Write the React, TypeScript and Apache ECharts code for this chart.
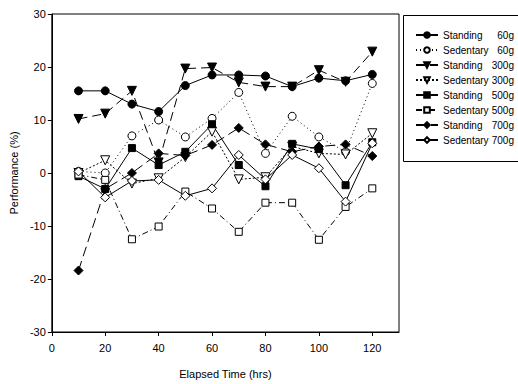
import React, { useEffect, useRef } from "react";
import * as echarts from "echarts";

const hours = [10, 20, 30, 40, 50, 60, 70, 80, 90, 100, 110, 120];
const seriesNames = [
  "Standing 60g",
  "Sedentary 60g",
  "Standing 300g",
  "Sedentary 300g",
  "Standing 500g",
  "Sedentary 500g",
  "Standing 700g",
  "Sedentary 700g",
];
const standing60 = [15.5, 15.5, 13, 11.6, 16.5, 18.5, 18.5, 18.3, 16.3, 17.9, 17.4, 18.6];
const sedentary60 = [0.3, 0, 7, 10, 6.8, 10.3, 15.2, 3.7, 10.7, 6.8, 4, 16.9];
const standing300 = [10.2, 11.2, 15.5, 2, 19.7, 19.9, 17.1, 16.3, 16.3, 19.4, 17.2, 22.9];
const sedentary300 = [0, 2.4, -2, -1, 3, 7.8, -1.2, -0.8, 5, 3.7, 3.5, 7.5];
const standing500 = [-0.6, -3, 4.7, 1.5, 4, 9.2, 1.5, -2.5, 5.5, 4.5, -2.3, 5.8];
const sedentary500 = [-0.3, -1.3, -12.5, -10.1, -3.5, -6.7, -11.1, -5.6, -5.6, -12.6, -6.4, -2.9];
const standing700 = [-18.4, -3, 0, 3.7, 3.3, 5.3, 8.5, 5.4, 4, 5, 5.4, 3.2];
const sedentary700 = [0.3, -4.6, -1.5, -1.3, -4.3, -2.9, 3.4, -1.2, 3.4, 0.9, -5.4, 5.6];

const xTicks = [0, 20, 40, 60, 80, 100, 120];
const yTicks = [-30, -20, -10, 0, 10, 20, 30];

const FONT = "Liberation Sans, Arial, sans-serif";
const downTri = "path://M0,0 L10,0 L5,9 Z";

const styles: any[] = [
  { symbol: "circle", fill: "#000", size: 8, line: "solid" },
  { symbol: "circle", fill: "#fff", size: 8, line: [1, 3] },
  { symbol: downTri, fill: "#000", size: 9, line: [9, 5] },
  { symbol: downTri, fill: "#fff", size: 9, line: [2, 2] },
  { symbol: "rect", fill: "#000", size: 7, line: "solid" },
  { symbol: "rect", fill: "#fff", size: 7, line: [6, 3, 1, 3] },
  { symbol: "diamond", fill: "#000", size: 9, line: [10, 5] },
  { symbol: "diamond", fill: "#fff", size: 9, line: "solid" },
];

const allData = [
  standing60,
  sedentary60,
  standing300,
  sedentary300,
  standing500,
  sedentary500,
  standing700,
  sedentary700,
];

export default function App() {
  const ref = useRef<HTMLDivElement>(null);
  useEffect(() => {
    if (!ref.current) return;
    const chart = echarts.init(ref.current, null, { renderer: "svg" });
    const series = seriesNames.map((name, i) => ({
      name,
      type: "line",
      data: hours.map((h, j) => [h, allData[i][j]]),
      symbol: styles[i].symbol,
      symbolSize: styles[i].size,
      showAllSymbol: true,
      itemStyle: { color: styles[i].fill, borderColor: "#000", borderWidth: 1 },
      lineStyle: { color: "#000", width: 1, type: styles[i].line },
      emphasis: { disabled: true },
      z: 3,
    }));
    chart.setOption({
      animation: false,
      backgroundColor: "#fff",
      grid: {
        left: 48,
        top: 14,
        width: 351,
        height: 318,
        show: true,
        borderColor: "#000",
        borderWidth: 1,
      },
      xAxis: {
        type: "value",
        min: 0,
        max: 130,
        interval: 20,
        name: "Elapsed Time (hrs)",
        nameLocation: "middle",
        nameGap: 36,
        nameTextStyle: { fontFamily: FONT, fontSize: 11, color: "#000" },
        axisLine: { show: true, onZero: false, lineStyle: { color: "#000" } },
        axisTick: { show: true, length: 4, lineStyle: { color: "#000" } },
        axisLabel: {
          fontFamily: FONT,
          fontSize: 11,
          color: "#000",
          margin: 10,
          showMaxLabel: false,
          formatter: (v: number) => (xTicks.includes(v) ? String(v) : ""),
        },
        splitLine: { show: false },
      },
      yAxis: {
        type: "value",
        min: -30,
        max: 30,
        interval: 10,
        name: "Performance (%)",
        nameLocation: "middle",
        nameGap: 30,
        nameTextStyle: { fontFamily: FONT, fontSize: 11, color: "#000" },
        axisLine: { show: true, lineStyle: { color: "#000" } },
        axisTick: { show: true, length: 4, lineStyle: { color: "#000" } },
        axisLabel: {
          fontFamily: FONT,
          fontSize: 11,
          color: "#000",
          margin: 6,
          formatter: (v: number) => (yTicks.includes(v) ? String(v) : ""),
        },
        splitLine: { show: false },
      },
      legend: {
        left: 410,
        top: 25,
        orient: "vertical",
        itemWidth: 22,
        itemHeight: 7,
        itemGap: 5,
        selectedMode: false,
        data: seriesNames,
        textStyle: {
          fontFamily: FONT,
          fontSize: 10,
          color: "#000",
          rich: {
            a: { fontFamily: FONT, fontSize: 10, color: "#000", width: 47 },
            b: { fontFamily: FONT, fontSize: 10, color: "#000", width: 24, align: "right" },
          },
        },
        formatter: (name: string) => {
          const parts = name.split(" ");
          return `{a|${parts[0]}}{b|${parts[1]}}`;
        },
      },
      graphic: [
        {
          type: "rect",
          shape: { x: 403.5, y: 15.5, width: 130, height: 146 },
          style: { fill: "none", stroke: "#000", lineWidth: 1 },
          silent: true,
        },
      ],
      series,
    });
    return () => chart.dispose();
  }, []);
  return (
    <div
      ref={ref}
      style={{ position: "fixed", left: 0, top: 0, width: 518, height: 384, background: "#fff" }}
    />
  );
}
